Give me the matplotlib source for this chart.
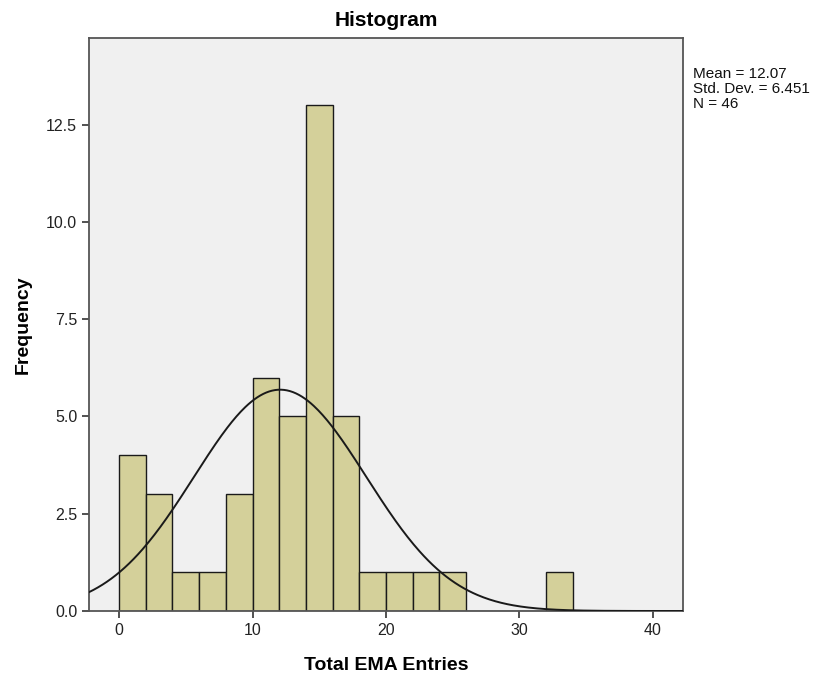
import numpy as np
import matplotlib
matplotlib.use('Agg')
import matplotlib.pyplot as plt

plt.rcParams['font.family'] = ['Liberation Sans', 'DejaVu Sans']

# histogram bins (width 2) and counts
bin_edges = [0, 2, 4, 6, 8, 10, 12, 14, 16, 18, 20, 22, 24, 26, 28, 30, 32, 34]
counts = [4, 3, 1, 1, 3, 6, 5, 13, 5, 1, 1, 1, 1, 0, 0, 0, 1]

# summary statistics shown in the chart
mean = 12.07
std = 6.451
n = 46

fig = plt.figure(figsize=(8.14, 6.75), dpi=100)
ax = fig.add_axes([89 / 814, 64 / 675, 594 / 814, 573 / 675])
ax.set_facecolor('#f0f0f0')

lefts = np.array(bin_edges[:-1])
widths = np.diff(bin_edges)
ax.bar(lefts, counts, width=widths, align='edge', color='#d4d09a',
       edgecolor='#1a1a1a', linewidth=1.0, zorder=2)

# fitted normal curve scaled to counts
x = np.linspace(-2.25, 42.25, 400)
bw = 2
y = n * bw / (std * np.sqrt(2 * np.pi)) * np.exp(-0.5 * ((x - mean) / std) ** 2)
ax.plot(x, y, color='#1a1a1a', linewidth=1.4, zorder=3)

ax.set_xlim(-2.25, 42.25)
ax.set_ylim(0, 14.73)
ax.set_xticks([0, 10, 20, 30, 40])
ax.set_yticks([0, 2.5, 5, 7.5, 10, 12.5])
ax.set_yticklabels(['0.0', '2.5', '5.0', '7.5', '10.0', '12.5'])
ax.tick_params(direction='out', length=5, width=1.2, color='#333333',
               labelsize=11.5, labelcolor='#222222')
for s in ax.spines.values():
    s.set_color('#555555')
    s.set_linewidth(1.3)

ax.set_title('Histogram', fontsize=15, fontweight='bold', pad=9)
ax.set_xlabel('Total EMA Entries', fontsize=14, fontweight='bold', labelpad=14)
ax.set_ylabel('Frequency', fontsize=14, fontweight='bold', labelpad=10)

fig.text(693 / 814, 1 - 89 / 675,
         'Mean = %.2f\nStd. Dev. = %.3f\nN = %d' % (mean, std, n),
         fontsize=11, va='center', ha='left', linespacing=1.05,
         color='#111111')

fig.savefig('out.png', dpi=100)
